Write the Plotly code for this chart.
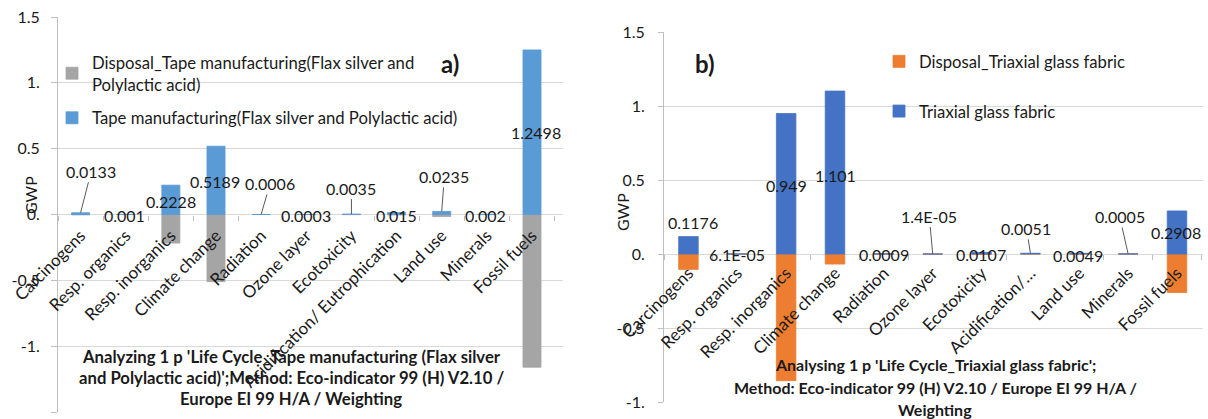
import plotly.graph_objects as go

W, H = 1208, 419
FONT = "Lato, 'Open Sans', sans-serif"
TXT = "#1a1a1a"

# ---------------- data: chart a) ----------------
cats_a = ["Carcinogens", "Resp. organics", "Resp. inorganics", "Climate change", "Radiation",
          "Ozone layer", "Ecotoxicity", "Acidification/ Eutrophication", "Land use", "Minerals",
          "Fossil fuels"]
tape_manuf = [0.0133, 0.001, 0.2228, 0.5189, 0.0006, 0.0003, 0.0035, 0.015, 0.0235, 0.002, 1.2498]
disposal_tape = [-0.003, -0.0005, -0.217, -0.51, -0.0002, -0.0001, -0.001, -0.004, -0.016, -0.001, -1.16]
labels_a = ["0.0133", "0.001", "0.2228", "0.5189", "0.0006", "0.0003", "0.0035", "0.015", "0.0235",
            "0.002", "1.2498"]
yticks_a = [1.5, 1.0, 0.5, 0.0, -0.5, -1.0, -1.5]
yticktext_a = ["1.5", "1.", "0.5", "0.", "-0.5", "-1.", "-1.5"]

# ---------------- data: chart b) ----------------
cats_b = ["Carcinogens", "Resp. organics", "Resp. inorganics", "Climate change", "Radiation",
          "Ozone layer", "Ecotoxicity", "Acidification/…", "Land use", "Minerals", "Fossil fuels"]
triaxial = [0.1176, 6.1e-05, 0.949, 1.101, 0.0009, 1.4e-05, 0.0107, 0.0051, 0.0049, 0.0005, 0.2908]
disposal_tri = [-0.104, 0.0, -0.856, -0.068, 0.0, 0.0, -0.004, 0.0, -0.001, 0.0, -0.26]
labels_b = ["0.1176", "6.1E-05", "0.949", "1.101", "0.0009", "1.4E-05", "0.0107", "0.0051", "0.0049",
            "0.0005", "0.2908"]
yticks_b = [1.5, 1.0, 0.5, 0.0, -0.5, -1.0]
yticktext_b = ["1.5", "1.", "0.5", "0.", "-0.5", "-1."]

# label placement (pixel offsets of label centre from bar end) and leader-line flags
off_a = [(10.7, -41.5), (-1, 1), (0, 16), (-1, 35), (9, -31), (0, 1), (0, -26), (0, 3),
         (2.7, -35), (-1.7, 1), (4, 83)]
lead_a = [True, False, False, False, True, False, True, False, True, False, False]
off_b = [(5, -14), (0, 1), (0, 72), (0, 84), (0, 1), (-3.5, -38), (-1, 2), (-4, -25),
         (-1, 2.5), (-8.5, -37.5), (-1, 22)]
lead_b = [False, False, False, False, False, True, False, True, False, True, False]

# ---------------- layout geometry (pixels) ----------------
ax_l, ax_r, ay_t, ay_b = 58, 563, 17, 412
bx_l, bx_r, by_t, by_b = 664, 1203, 32, 402


def px(x):
    return x / W


def py(y):
    return 1 - y / H


ya_dom = [py(ay_b), py(ay_t)]
yb_dom = [py(by_b), py(by_t)]
zero_a = ya_dom[0] + (0 - (-1.5)) / 3.0 * (ya_dom[1] - ya_dom[0])
zero_b = yb_dom[0] + (0 - (-1.0)) / 2.5 * (yb_dom[1] - yb_dom[0])

fig = go.Figure()
fig.add_trace(go.Bar(x=cats_a, y=disposal_tape, name="Disposal_Tape manufacturing(Flax silver and<br>Polylactic acid)",
                     marker=dict(color="#A5A5A5", line=dict(width=0.8, color="#A5A5A5")), xaxis="x", yaxis="y",
                     legend="legend", legendgroup="a1"))
fig.add_trace(go.Bar(x=cats_a, y=tape_manuf, name="Tape manufacturing(Flax silver and Polylactic acid)",
                     marker=dict(color="#5B9BD5", line=dict(width=0.8, color="#5B9BD5")), xaxis="x", yaxis="y",
                     legend="legend", legendgroup="a2"))
fig.add_trace(go.Bar(x=cats_b, y=disposal_tri, name="Disposal_Triaxial glass fabric",
                     marker=dict(color="#ED7D31", line=dict(width=0.8, color="#ED7D31")), xaxis="x2", yaxis="y2",
                     legend="legend2", legendgroup="b1"))
fig.add_trace(go.Bar(x=cats_b, y=triaxial, name="Triaxial glass fabric",
                     marker=dict(color="#4472C4", line=dict(width=0.8, color="#4472C4")), xaxis="x2", yaxis="y2",
                     legend="legend2", legendgroup="b2"))

annotations = []


def add_labels(cats, vals, texts, offs, leads, xref, yref):
    for c, v, t, (dx, dy), ld in zip(cats, vals, texts, offs, leads):
        if ld:
            annotations.append(dict(x=c, y=v, xref=xref, yref=yref, text=t, showarrow=True,
                                    ax=dx, ay=dy, arrowhead=0, arrowwidth=1, arrowcolor="#595959",
                                    standoff=0, font=dict(family=FONT, size=16, color=TXT)))
        else:
            annotations.append(dict(x=c, y=v, xref=xref, yref=yref, text=t, showarrow=False,
                                    xanchor="center", yanchor="middle",
                                    xshift=dx, yshift=-dy, font=dict(family=FONT, size=16, color=TXT)))


add_labels(cats_a, tape_manuf, labels_a, off_a, lead_a, "x", "y")
add_labels(cats_b, triaxial, labels_b, off_b, lead_b, "x2", "y2")


def paper_text(x, y, text, size=16, angle=0):
    annotations.append(dict(x=px(x), y=py(y), xref="paper", yref="paper", text=text, textangle=angle,
                            xanchor="center", yanchor="middle", showarrow=False,
                            font=dict(family=FONT, size=size, color=TXT)))


# axis titles
paper_text(30, 195, "GWP", angle=-90)
paper_text(623, 212, "GWP", angle=-90)
# panel tags
paper_text(450, 63, "<b>a)</b>", size=24)
paper_text(705, 63, "<b>b)</b>", size=24)
# bottom captions
cap_a = ["Analyzing 1 p 'Life Cycle_Tape manufacturing (Flax silver",
         "and Polylactic acid)';Method: Eco-indicator 99 (H) V2.10 /",
         "Europe EI 99 H/A / Weighting"]
cap_a_y = [357, 378, 399]
cap_b = ["Analysing 1 p 'Life Cycle_Triaxial glass fabric';",
         "Method: Eco-indicator 99 (H) V2.10 / Europe EI 99 H/A /",
         "Weighting"]
cap_b_y = [364, 387, 409]
for t, yy in zip(cap_a, cap_a_y):
    paper_text(291, yy, "<b>" + t + "</b>", size=16.7)
for t, yy in zip(cap_b, cap_b_y):
    paper_text(935, yy, "<b>" + t + "</b>", size=16)

grid = "#D9D9D9"
axline = "#BFBFBF"
tickfont = dict(family=FONT, size=16, color=TXT)
catfont = dict(family=FONT, size=17, color=TXT)

fig.update_layout(
    width=W, height=H, margin=dict(l=0, r=0, t=0, b=0, autoexpand=False),
    paper_bgcolor="white", plot_bgcolor="white",
    barmode="relative", bargap=0.6,
    font=dict(family=FONT, size=16, color=TXT),
    xaxis=dict(domain=[px(ax_l), px(ax_r)], anchor="free", position=zero_a, type="category",
               automargin=False,
               showgrid=False, showline=False, zeroline=False, tickangle=-45, tickfont=catfont,
               tickson="boundaries", ticks="outside", ticklen=5, tickcolor=axline, ticklabelstandoff=7),
    yaxis=dict(domain=ya_dom, anchor="x", range=[-1.5, 1.5], tickvals=yticks_a, ticktext=yticktext_a,
               automargin=False,
               showgrid=True, gridcolor=grid, zeroline=False, showline=True, linecolor=axline,
               ticks="outside", ticklen=6, tickcolor=axline, tickfont=tickfont, ticklabelstandoff=8),
    xaxis2=dict(domain=[px(bx_l), px(bx_r)], anchor="free", position=zero_b, type="category",
                automargin=False,
                showgrid=False, showline=False, zeroline=False, tickangle=-45, tickfont=catfont,
                tickson="boundaries", ticks="outside", ticklen=5, tickcolor=axline, ticklabelstandoff=5),
    yaxis2=dict(domain=yb_dom, anchor="x2", range=[-1.0, 1.5], tickvals=yticks_b, ticktext=yticktext_b,
                automargin=False,
                showgrid=True, gridcolor=grid, zeroline=False, showline=True, linecolor=axline,
                ticks="outside", ticklen=5, tickcolor=axline, tickfont=tickfont, ticklabelstandoff=10),
    legend=dict(x=px(52), y=py(45), xanchor="left", yanchor="top", bgcolor="rgba(0,0,0,0)",
                traceorder="grouped", tracegroupgap=9, font=dict(family=FONT, size=16.7, color=TXT)),
    legend2=dict(x=px(879), y=py(44), xanchor="left", yanchor="top", bgcolor="rgba(0,0,0,0)",
                 traceorder="grouped", tracegroupgap=25, font=dict(family=FONT, size=16.7, color=TXT)),
    annotations=annotations,
    showlegend=True,
)

fig.write_html("out.html")
